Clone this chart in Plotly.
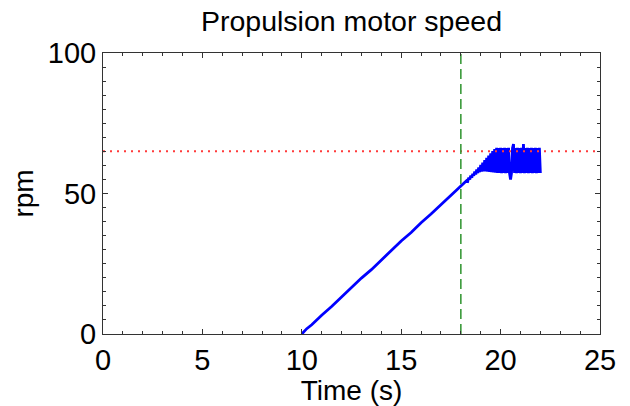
import plotly.graph_objects as go

# Ramp phase (s, rpm)
time_ramp = [10.0, 10.25, 10.5, 10.75, 11.0, 11.5, 12.0, 12.5, 13.0, 13.5, 14.0, 14.5,
             15.0, 15.5, 16.0, 16.5, 17.0, 17.5, 18.0, 18.3]
rpm_ramp = [0.0, 1.9, 3.3, 5.1, 6.7, 9.8, 13.2, 16.3, 19.9, 22.9, 26.4, 29.6,
            33.1, 36.1, 39.6, 42.7, 46.1, 49.2, 52.9, 54.6]

# Oscillating phase near the limit (s, rpm)
time_osc = [18.35, 18.40, 18.45, 18.50, 18.55, 18.60, 18.65, 18.70, 18.75, 18.80,
            18.85, 18.90, 18.95, 19.00, 19.05, 19.10, 19.15, 19.20, 19.25, 19.30,
            19.35, 19.40, 19.45, 19.50, 19.55, 19.60, 19.65, 19.70, 19.75, 19.80,
            19.85, 19.90, 19.95, 20.00, 20.05, 20.10, 20.15, 20.20, 20.25, 20.30,
            20.35, 20.40, 20.45, 20.50, 20.55, 20.60, 20.65, 20.70, 20.75, 20.80,
            20.85, 20.90, 20.95, 21.00, 21.05, 21.10, 21.15, 21.20, 21.25, 21.30,
            21.35, 21.40, 21.45, 21.50, 21.55, 21.60, 21.65, 21.70, 21.75, 21.80,
            21.85, 21.90, 21.95, 22.00]
rpm_osc = [54.4, 55.6, 55.0, 56.4, 55.6, 57.0, 56.3, 57.8, 56.8, 58.5,
           57.3, 59.3, 57.6, 60.2, 57.8, 61.0, 57.9, 61.9, 57.9, 62.7,
           57.8, 63.5, 57.7, 64.3, 57.6, 65.1, 57.5, 65.8, 57.4, 66.3,
           57.3, 66.2, 57.3, 66.3, 57.2, 66.2, 57.3, 66.3, 57.2, 66.2,
           57.3, 66.3, 57.2, 55.0, 57.3, 66.2, 67.6, 57.3, 66.2, 57.2,
           66.3, 57.3, 66.2, 57.2, 66.3, 57.3, 67.6, 57.2, 66.2, 57.3,
           66.3, 57.2, 66.2, 57.3, 66.3, 57.2, 66.2, 57.3, 66.3, 57.2,
           66.2, 57.3, 66.3, 57.3]

speed_limit = 65.0      # red dotted reference (rpm)
event_time = 18.0       # green dashed marker (s)

x_range = [0, 25]
y_range = [0, 100]
x_ticks = [0, 5, 10, 15, 20, 25]
y_ticks = [0, 50, 100]

FONT = "Liberation Sans, Arial, sans-serif"
W, H = 622, 398   # page body has an 8px margin

fig = go.Figure()
fig.add_trace(go.Scatter(x=time_ramp + time_osc, y=rpm_ramp + rpm_osc, mode="lines",
                         line=dict(color="#0000FF", width=2.8), showlegend=False))
fig.add_trace(go.Scatter(x=x_range, y=[speed_limit, speed_limit], mode="lines",
                         line=dict(color="#FF3B3B", width=2, dash="2px,5px"), showlegend=False))
fig.add_trace(go.Scatter(x=[event_time, event_time], y=y_range, mode="lines",
                         line=dict(color="#3A9A3A", width=1.6, dash="10px,5px"), showlegend=False))

axis_common = dict(
    showgrid=False, zeroline=False, showline=True, linecolor="#333333", linewidth=1,
    mirror="ticks", ticks="inside", ticklen=5, tickcolor="#333333", tickwidth=1,
    tickfont=dict(family=FONT, size=29, color="black"),
    title_font=dict(family=FONT, size=28, color="black"),
)

fig.update_xaxes(range=x_range, tickvals=x_ticks, ticktext=[str(v) for v in x_ticks],
                 title_text="Time (s)", title_standoff=0,
                 minor=dict(dtick=1, ticks="inside", ticklen=3, tickcolor="#333333"),
                 **axis_common)
fig.update_yaxes(range=y_range, tickvals=y_ticks, ticktext=[str(v) for v in y_ticks],
                 title_text="rpm", title_standoff=9,
                 minor=dict(dtick=5, ticks="inside", ticklen=3, tickcolor="#333333"),
                 **axis_common)

fig.update_layout(
    width=W, height=H,
    margin=dict(l=95, r=30, t=45, b=72),
    paper_bgcolor="white", plot_bgcolor="white",
    title=dict(text="Propulsion motor speed", x=(95 + 592) / 2 / W, xanchor="center",
               y=1 - 13 / H, yanchor="middle", yref="container",
               font=dict(family=FONT, size=28.5, color="black")),
)

fig.write_html("out.html")
